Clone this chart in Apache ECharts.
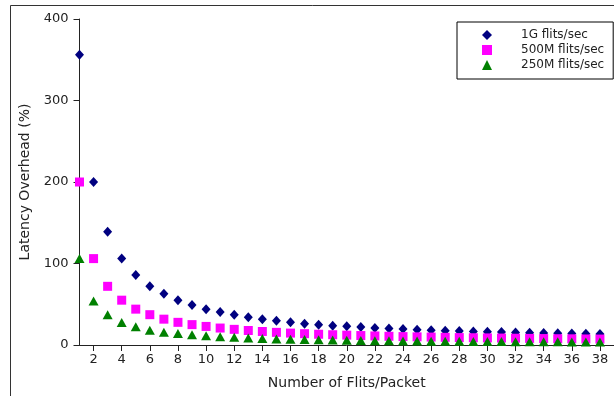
<!DOCTYPE html>
<html>
<head>
<meta charset="utf-8">
<script src="https://cdn.jsdelivr.net/npm/echarts@6/dist/echarts.min.js"></script>
<style>
  html, body { margin: 0; padding: 0; background: #fff; }
  #chart { width: 614px; height: 396px; }
</style>
</head>
<body>
<div id="chart"></div>
<script>
// Flits per packet (x values)
const flits = [];
for (let n = 1; n <= 38; n++) flits.push(n);

// Latency overhead (%) per link rate
const rate1G = [356, 200, 139, 106, 86, 72, 63, 55, 49, 44, 40.5, 37.2, 34, 31.5, 29.8, 27.8,
  26.2, 25, 23.7, 22.9, 22, 21, 20.2, 19.5, 18.8, 18.2, 17.6, 17.1, 16.6, 16.2, 15.8, 15.4,
  15, 14.6, 14.3, 14, 13.7, 13.4];
const rate500M = [200, 106, 72, 55, 44, 37.2, 31.7, 27.8, 25, 22.8, 20.8, 19.2, 17.8, 16.6,
  15.5, 14.6, 13.9, 13.2, 12.6, 12.1, 11.6, 11.1, 10.7, 10.3, 10.0, 9.7, 9.4, 9.1, 8.9, 8.7,
  8.5, 8.3, 8.1, 7.9, 7.7, 7.6, 7.4, 7.3];
const rate250M = [106, 54, 37, 27.5, 22.5, 18, 15.5, 14, 12.7, 11.2, 10.2, 9.4, 8.7, 8.0, 7.4,
  7.0, 6.6, 6.3, 6.0, 5.8, 5.5, 5.3, 5.1, 5.0, 4.8, 4.7, 4.6, 4.5, 4.4, 4.3, 4.2, 4.1, 4.0,
  3.9, 3.9, 3.8, 3.7, 3.7];

const seriesNames = ['1G flits/sec', '500M flits/sec', '250M flits/sec'];
const xTicks = [2, 4, 6, 8, 10, 12, 14, 16, 18, 20, 22, 24, 26, 28, 30, 32, 34, 36, 38];
const yTicks = [0, 100, 200, 300, 400];

const pairs = (ys) => flits.map((x, i) => [x, ys[i]]);
const FONT = 'DejaVu Sans';

const chart = echarts.init(document.getElementById('chart'), null, { renderer: 'canvas' });
chart.setOption({
  animation: false,
  backgroundColor: '#fff',
  textStyle: { fontFamily: FONT },
  grid: { left: 79.5, top: 19, right: -4, bottom: 51, containLabel: false },
  xAxis: {
    type: 'value',
    min: 1,
    max: 39,
    name: 'Number of Flits/Packet',
    nameLocation: 'middle',
    nameGap: 31,
    nameTextStyle: { fontFamily: FONT, fontSize: 14, color: '#222' },
    axisLine: { show: true, lineStyle: { color: '#222', width: 1 } },
    axisTick: { show: true, length: 6, customValues: xTicks, lineStyle: { color: '#222' } },
    axisLabel: { customValues: xTicks, fontFamily: FONT, fontSize: 13, color: '#222', margin: 8 },
    splitLine: { show: false }
  },
  yAxis: {
    type: 'value',
    min: 0,
    max: 400,
    name: 'Latency Overhead (%)',
    nameLocation: 'middle',
    nameGap: 46,
    nameRotate: 90,
    nameTextStyle: { fontFamily: FONT, fontSize: 14, color: '#222' },
    axisLine: { show: true, lineStyle: { color: '#222', width: 1 } },
    axisTick: { show: true, length: 6, customValues: yTicks, lineStyle: { color: '#222' } },
    axisLabel: { customValues: yTicks, fontFamily: FONT, fontSize: 13, color: '#222', margin: 11 },
    splitLine: { show: false }
  },
  legend: {
    orient: 'vertical',
    left: 457,
    top: 22,
    padding: [6, 9, 7, 25],
    itemWidth: 10,
    itemHeight: 10,
    itemGap: 1,
    borderColor: '#000',
    borderWidth: 1,
    borderRadius: 0,
    textStyle: { fontFamily: FONT, fontSize: 12, color: '#222', lineHeight: 14, padding: [0, 0, 0, 24] },
    data: seriesNames
  },
  graphic: [{
    type: 'rect',
    shape: { x: 10.5, y: 5.5, width: 700, height: 500 },
    style: { fill: 'none', stroke: '#333', lineWidth: 1 },
    silent: true,
    z: 100
  }],
  series: [
    {
      name: seriesNames[0], type: 'scatter', data: pairs(rate1G),
      symbol: 'diamond', symbolSize: [9, 10],
      itemStyle: { color: '#000080', opacity: 1 }, z: 2
    },
    {
      name: seriesNames[1], type: 'scatter', data: pairs(rate500M),
      symbol: 'rect', symbolSize: 9,
      itemStyle: { color: '#ff00ff', opacity: 1 }, z: 3
    },
    {
      name: seriesNames[2], type: 'scatter', data: pairs(rate250M),
      symbol: 'triangle', symbolSize: [10, 9],
      itemStyle: { color: '#008000', opacity: 1 }, z: 4
    }
  ]
});
</script>
</body>
</html>
